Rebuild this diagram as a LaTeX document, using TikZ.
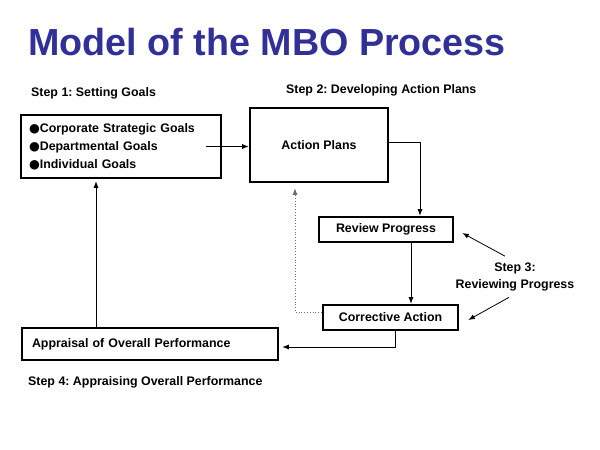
\documentclass[tikz,border=0pt]{standalone}
\usepackage{fontspec}
\setmainfont{Liberation Sans}
\newfontfamily\bulletfont{DejaVu Sans}
\usepackage{tikz}
\usetikzlibrary{arrows.meta,positioning}
\usepackage{xcolor}
\definecolor{titleblue}{RGB}{48,48,150}
\definecolor{dotgray}{RGB}{110,110,110}
\tikzstyle{stepbox} = [draw, line width=2.6pt, inner sep=0pt]
\tikzstyle{steptext} = [inner sep=0pt, font=\fontsize{12.4}{17}\selectfont\bfseries]
\tikzstyle{arrow} = [-{Latex[length=6.5pt,width=5pt]}, line width=0.8pt]
\frenchspacing

\begin{document}
\begin{tikzpicture}[x=1pt,y=-1pt]
\useasboundingbox (0,0) rectangle (600,450);

% Title
\node[anchor=base west, inner sep=0pt, text=titleblue, font=\fontsize{37.7}{40}\selectfont\bfseries] (title) at (28,55) {Model of the MBO Process};

% Step labels
\node[steptext, anchor=west] (step1) at (31,93) {Step 1: Setting Goals};
\node[steptext, anchor=west] (step2) at (286,90) {Step 2: Developing Action Plans};
\node[steptext, align=center] (step3) at (515,276.5) {Step 3:\\Reviewing Progress};
\node[steptext, anchor=west] (step4) at (28,382) {Step 4: Appraising Overall Performance};

% Boxes
\node[stepbox, steptext, minimum width=200pt, minimum height=63pt, text width=184pt, align=left, font=\fontsize{12.4}{18}\selectfont\bfseries] (goals) at (121,146.5)
  {{\bulletfont●}Corporate Strategic Goals\\{\bulletfont●}Departmental Goals\\{\bulletfont●}Individual Goals};
\node[stepbox, steptext, minimum width=138pt, minimum height=74pt] (plans) at (319,145) {Action Plans};
\node[stepbox, steptext, minimum width=134pt, minimum height=25pt] (review) at (386,229.5) {Review Progress};
\node[stepbox, steptext, minimum width=135pt, minimum height=25pt] (corrective) at (390.5,317.5) {Corrective Action};
\node[stepbox, steptext, minimum width=256pt, minimum height=32pt, text width=236pt, align=left] (appraisal) at (150,344) {Appraisal of Overall Performance};

% Connectors
\draw[arrow] ([xshift=-16pt]goals.east) -- (goals.east -| plans.west);
\draw[arrow] ([xshift=-2pt,yshift=3pt]plans.east) -| ([xshift=34pt]review.north);
\draw[arrow] ([xshift=25pt]review.south) -- ([xshift=25pt]review.south |- corrective.north);
\draw[arrow, dotted, dotgray, shorten >=5pt] ([yshift=5.5pt]corrective.west) -| ([xshift=-24pt]plans.south);
\draw[arrow] ([xshift=4.5pt]corrective.south) |- ([xshift=3pt,yshift=-3pt]appraisal.east);
\draw[arrow, shorten >=2pt] ([xshift=-54pt]appraisal.north) -- ([xshift=-54pt]appraisal.north |- goals.south);

% Step 3 pointers
\draw[arrow] ([xshift=-10pt,yshift=6pt]step3.north) -- ([xshift=8pt,yshift=-3.5pt]review.east);
\draw[arrow] ([xshift=-6pt,yshift=-6.5pt]step3.south) -- ([xshift=9pt,yshift=-2.5pt]corrective.east);
\end{tikzpicture}
\end{document}
